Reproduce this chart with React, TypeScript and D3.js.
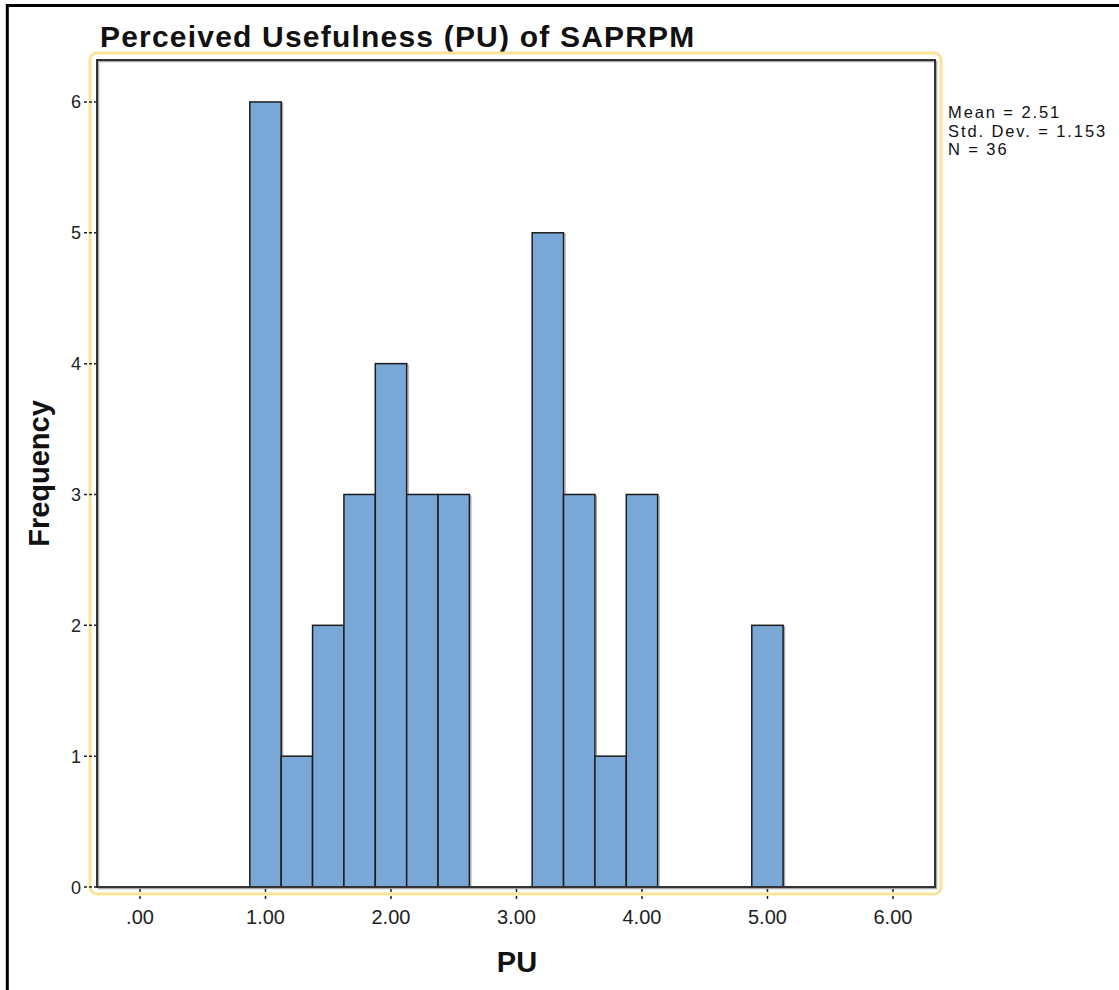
import React from 'react';
import * as d3 from 'd3';

// histogram bins (bin width 0.25)
const binStarts = [0.875, 1.125, 1.375, 1.625, 1.875, 2.125, 2.375, 3.125, 3.375, 3.625, 3.875, 4.875];
const binWidth = 0.25;
const counts = [6, 1, 2, 3, 4, 3, 3, 5, 3, 1, 3, 2];

const xTickValues = [0, 1, 2, 3, 4, 5, 6];
const xTickLabels = ['.00', '1.00', '2.00', '3.00', '4.00', '5.00', '6.00'];
const yTickValues = [0, 1, 2, 3, 4, 5, 6];

const statsLines = ['Mean = 2.51', 'Std. Dev. = 1.153', 'N = 36'];

const W = 1119;
const H = 990;
const FONT = '"Liberation Sans", Arial, Helvetica, sans-serif';

export default function App() {
  // plot frame
  const frame = { left: 97, right: 935, top: 60, bottom: 887 };

  const x = d3.scaleLinear().domain([-0.3426, 6.335]).range([frame.left, frame.right]);
  const y = d3.scaleLinear().domain([0, 6.3206]).range([frame.bottom, frame.top]);

  const bins = binStarts.map((s, i) => ({ x0: s, x1: s + binWidth, n: counts[i] }));

  return (
    <svg
      width={W}
      height={H}
      viewBox={`0 0 ${W} ${H}`}
      style={{ position: 'absolute', left: 0, top: 0, background: '#fff' }}
      fontFamily={FONT}
    >
      <rect x={0} y={0} width={W} height={H} fill="#fff" />
      {/* outer black border */}
      <rect x={7.3} y={5.5} width={W + 20} height={H + 20} fill="none" stroke="#000" strokeWidth={3} />

      {/* title */}
      <text x={100} y={47} fontSize={30} fontWeight="bold" fill="#111" letterSpacing={1.2}>
        Perceived Usefulness (PU) of SAPRPM
      </text>

      {/* yellow selection outline */}
      <rect x={90} y={53} width={851} height={841} rx={7} fill="none" stroke="#fbe39a" strokeWidth={3} />

      {/* bars */}
      <g>
        {bins.map((b, i) => (
          <g key={i}>
            <rect
              x={x(b.x0) + 1.5}
              y={y(b.n) + 1.5}
              width={x(b.x1) - x(b.x0)}
              height={y(0) - y(b.n)}
              fill="none"
              stroke="#999"
              strokeWidth={1}
            />
            <rect
              x={x(b.x0)}
              y={y(b.n)}
              width={x(b.x1) - x(b.x0)}
              height={y(0) - y(b.n)}
              fill="#79a7d6"
              stroke="#1c1c1c"
              strokeWidth={1.5}
            />
          </g>
        ))}
      </g>

      {/* frame with light shadow */}
      <rect
        x={frame.left + 1.5}
        y={frame.top + 1.5}
        width={frame.right - frame.left}
        height={frame.bottom - frame.top}
        fill="none"
        stroke="#aaa"
        strokeWidth={1.5}
      />
      <rect
        x={frame.left}
        y={frame.top}
        width={frame.right - frame.left}
        height={frame.bottom - frame.top}
        fill="none"
        stroke="#333"
        strokeWidth={2}
      />

      {/* y axis ticks */}
      {yTickValues.map((v) => (
        <g key={v}>
          <line x1={84} x2={frame.left} y1={y(v)} y2={y(v)} stroke="#222" strokeWidth={1.5} strokeDasharray="3,2" />
          <text x={81} y={y(v) + 6.5} fontSize={18} textAnchor="end" fill="#222">
            {v}
          </text>
        </g>
      ))}

      {/* x axis ticks */}
      {xTickValues.map((v, i) => (
        <g key={v}>
          <line x1={x(v)} x2={x(v)} y1={frame.bottom + 2} y2={frame.bottom + 15} stroke="#222" strokeWidth={1.5} strokeDasharray="3,4" />
          <text x={x(v)} y={924} fontSize={20} textAnchor="middle" fill="#222">
            {xTickLabels[i]}
          </text>
        </g>
      ))}

      {/* axis titles */}
      <text x={517} y={972} fontSize={29} fontWeight="bold" textAnchor="middle" fill="#111">
        PU
      </text>
      <text
        transform={`translate(49, ${(frame.top + frame.bottom) / 2}) rotate(-90)`}
        fontSize={29}
        fontWeight="bold"
        textAnchor="middle"
        fill="#111"
      >
        Frequency
      </text>

      {/* stats box */}
      {statsLines.map((t, i) => (
        <text key={t} x={948} y={118 + i * 18.7} fontSize={16.5} letterSpacing={1.9} fill="#111">
          {t}
        </text>
      ))}
    </svg>
  );
}
